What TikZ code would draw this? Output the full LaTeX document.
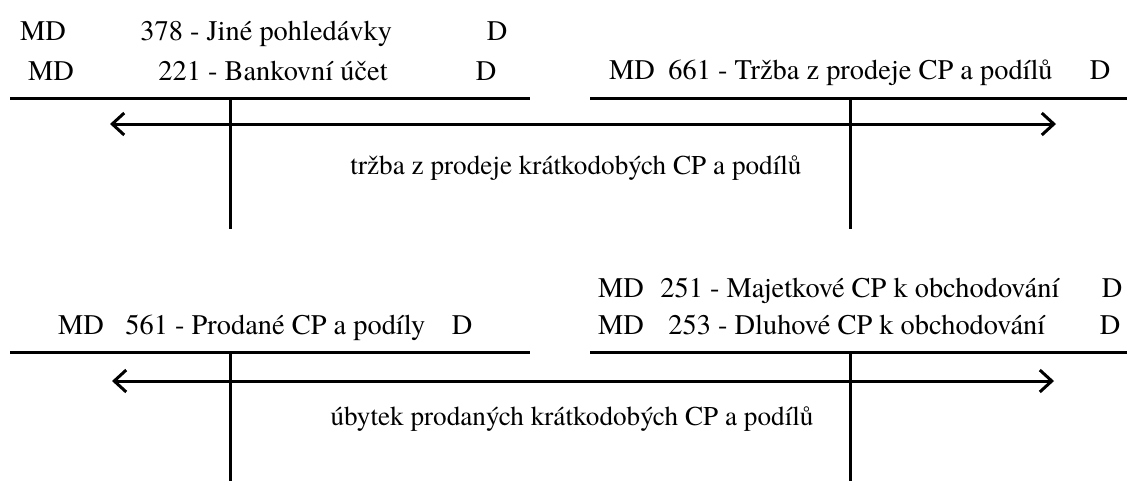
\documentclass[tikz,border=0pt]{standalone}
\usepackage{fontspec}
\setmainfont{texgyretermes-regular.otf}
\newfontfamily\acctfont{texgyretermes-regular.otf}
\usetikzlibrary{arrows.meta}
\tikzset{
  tline/.style={line width=1.5pt,draw=black},
  flow/.style={line width=1.5pt,{Straight Barb[length=6pt,width=11pt]}-{Straight Barb[length=6pt,width=11pt]}},
  acct/.style={inner sep=0pt,font=\acctfont\fontsize{14.2}{16}\selectfont},
  note/.style={inner sep=0pt,anchor=base,font=\acctfont\fontsize{13.6}{16}\selectfont},
  side/.style={acct,anchor=base},
  title/.style={acct,anchor=base west}
}

\begin{document}
\begin{tikzpicture}[x=0.5pt,y=-0.5pt]
  \useasboundingbox (0,0) rectangle (1127,481);

  % upper pair of accounts
  \coordinate (bankL) at (10,98);
  \coordinate (bankR) at (530,98);
  \coordinate (bankT) at (230,98);
  \coordinate (bankB) at (230,229);
  \coordinate (trzL) at (590,98);
  \coordinate (trzR) at (1127,98);
  \coordinate (trzT) at (850,98);
  \coordinate (trzB) at (850,229);

  \draw[tline] (bankL)--(bankR);
  \draw[tline] (bankT)--(bankB);
  \draw[tline] (trzL)--(trzR);
  \draw[tline] (trzT)--(trzB);

  \node[side] (md378) at (43,41) {MD};
  \node[title] (n378) at (140,41) {378 - Jiné pohledávky};
  \node[side] (d378) at (497,41) {D};
  \node[side] (md221) at (51,81) {MD};
  \node[title] (n221) at (158,81) {221 - Bankovní účet};
  \node[side] (d221) at (486,81) {D};
  \node[side] (md661) at (632,80) {MD};
  \node[title] (n661) at (668,80) {661 - Tržba z prodeje CP a podílů};
  \node[side] (d661) at (1100,80) {D};

  \coordinate (arrA) at (110,124);
  \coordinate (arrB) at (1056,124);
  \draw[flow] (arrA)--(arrB);
  \node[note] (sale) at (576,174) {tržba z prodeje krátkodobých CP a podílů};

  % lower pair of accounts
  \coordinate (costL) at (10,352);
  \coordinate (costR) at (530,352);
  \coordinate (costT) at (230,352);
  \coordinate (costB) at (230,481);
  \coordinate (cpL) at (590,352);
  \coordinate (cpR) at (1127,352);
  \coordinate (cpT) at (850,352);
  \coordinate (cpB) at (850,481);

  \draw[tline] (costL)--(costR);
  \draw[tline] (costT)--(costB);
  \draw[tline] (cpL)--(cpR);
  \draw[tline] (cpT)--(cpB);

  \node[side] (md561) at (81,334) {MD};
  \node[title] (n561) at (125,334) {561 - Prodané CP a podíly};
  \node[side] (d561) at (462,334) {D};
  \node[side] (md251) at (621,297) {MD};
  \node[title] (n251) at (660,297) {251 - Majetkové CP k obchodování};
  \node[side] (d251) at (1112,297) {D};
  \node[side] (md253) at (621,334) {MD};
  \node[title] (n253) at (668,334) {253 - Dluhové CP k obchodování};
  \node[side] (d253) at (1110,334) {D};

  \coordinate (arrC) at (112,381);
  \coordinate (arrD) at (1054,381);
  \draw[flow] (arrC)--(arrD);
  \node[note] (loss) at (572,425) {úbytek prodaných krátkodobých CP a podílů};
\end{tikzpicture}
\end{document}
